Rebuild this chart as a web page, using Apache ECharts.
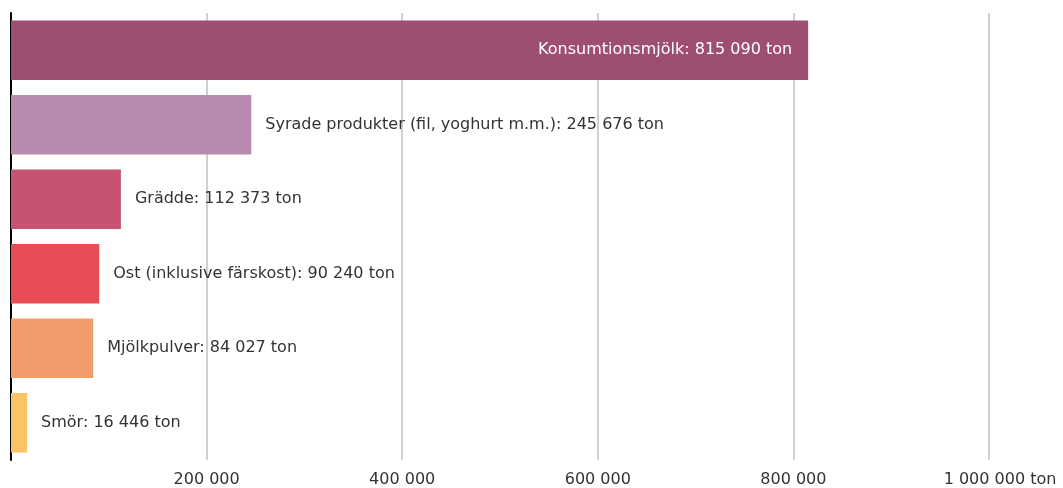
<!DOCTYPE html>
<html>
<head>
<meta charset="utf-8">
<script src="https://cdn.jsdelivr.net/npm/echarts@6/dist/echarts.min.js"></script>
<style>
    html, body { margin: 0; padding: 0; background: #fff; }
    #chart { width: 1063px; height: 488px; }
</style>
</head>
<body>
<div id="chart"></div>
<script>
// mejeriprodukter, ton
var kategorier = ['Konsumtionsmjölk', 'Syrade produkter (fil, yoghurt m.m.)', 'Grädde', 'Ost (inklusive färskost)', 'Mjölkpulver', 'Smör'];
var varden = [815090, 245676, 112373, 90240, 84027, 16446];
var farger = ['#9e4d73', '#b88aad', '#c75272', '#e64d54', '#f29c6c', '#f9c466'];
var xTicks = [0, 200000, 400000, 600000, 800000, 1000000];

var font = 'DejaVu Sans';

function tal(v) {
    return String(v).replace(/\B(?=(\d{3})+(?!\d))/g, ' ');
}

var dom = document.getElementById('chart');
var myChart = echarts.init(dom);
var option = {
    animation: false,
    backgroundColor: '#fff',
    textStyle: { fontFamily: font },
    grid: { left: 11, right: 74, top: 13, bottom: 27 },
    xAxis: {
        type: 'value',
        min: xTicks[0],
        max: xTicks[xTicks.length - 1],
        interval: 200000,
        axisLine: { show: false },
        axisTick: { show: false },
        splitLine: { lineStyle: { color: '#d0d0d0', width: 2 } },
        axisLabel: {
            color: '#333',
            fontSize: 16,
            fontFamily: font,
            margin: 12,
            formatter: function (v) {
                if (v === 0) return '';
                if (v === 1000000) return '{a|' + tal(v) + ' ton}';
                return tal(v);
            },
            rich: { a: { fontSize: 16, fontFamily: font, color: '#333', padding: [0, 0, 0, 22] } }
        }
    },
    yAxis: {
        type: 'category',
        inverse: true,
        data: kategorier,
        axisLine: { lineStyle: { color: '#000', width: 2 } },
        axisTick: { show: false },
        axisLabel: { show: false }
    },
    series: [{
        type: 'bar',
        barCategoryGap: '20%',
        data: varden.map(function (v, i) {
            var lbl = i === 0
                ? { position: 'insideRight', color: '#fff', distance: 16 }
                : { position: 'right', color: '#333', distance: 14 };
            return { value: v, itemStyle: { color: farger[i] }, label: lbl };
        }),
        label: {
            show: true,
            fontSize: 16,
            fontFamily: font,
            formatter: function (p) {
                return p.name + ': ' + tal(p.value) + ' ton';
            }
        }
    }]
};
myChart.setOption(option, true);
window.onresize = myChart.resize;
</script>
</body>
</html>
